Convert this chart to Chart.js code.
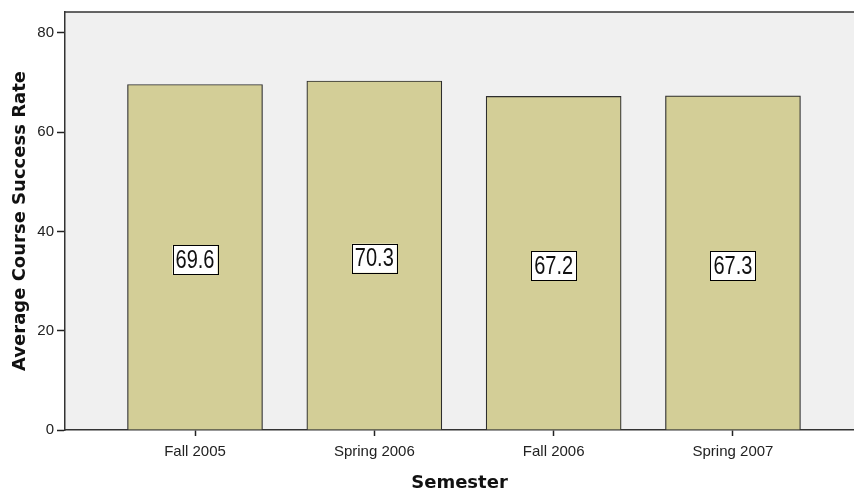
<!DOCTYPE html>
<html>
<head>
<meta charset="utf-8">
<script src="https://cdn.jsdelivr.net/npm/chart.js@4"></script>
<style>
  body { margin: 0; background: #fff; }
  #wrap { width: 854px; height: 498px; }
</style>
</head>
<body>
<div id="wrap"><canvas id="semChart"></canvas></div>
<script>
// Data
const semesters = ["Fall 2005", "Spring 2006", "Fall 2006", "Spring 2007"];
const successRates = [69.6, 70.3, 67.2, 67.3];
const yTicks = [0, 20, 40, 60, 80];

// Plot background (light gray like the SPSS output) + top frame line
const plotBg = {
    id: 'plotBg',
    beforeDraw(chart) {
        const { ctx, chartArea: a } = chart;
        ctx.save();
        ctx.fillStyle = '#f0f0f0';
        ctx.fillRect(a.left, a.top, a.right - a.left, a.bottom - a.top);
        ctx.restore();
    },
    afterDraw(chart) {
        const { ctx, chartArea: a } = chart;
        ctx.save();
        ctx.strokeStyle = '#333';
        ctx.lineWidth = 1.5;
        ctx.beginPath();
        ctx.moveTo(a.left, a.top);
        ctx.lineTo(a.right, a.top);
        ctx.stroke();
        ctx.restore();
    }
};

// Value boxes in the middle of each bar
const barLabels = {
    id: 'barLabels',
    afterDatasetsDraw(chart) {
        const ctx = chart.ctx;
        const meta = chart.getDatasetMeta(0);
        ctx.save();
        meta.data.forEach((bar, i) => {
            const cx = bar.x;
            const cy = (bar.y + bar.base) / 2 + 3;
            const w = 45, h = 29;
            ctx.fillStyle = '#fff';
            ctx.fillRect(cx - w / 2, cy - h / 2, w, h);
            ctx.strokeStyle = '#000';
            ctx.lineWidth = 1;
            ctx.strokeRect(Math.round(cx - w / 2) + 0.5, Math.round(cy - h / 2) + 0.5, w, h);
            ctx.save();
            ctx.translate(cx, cy + 1);
            ctx.scale(0.8, 1);
            ctx.fillStyle = '#111';
            ctx.font = '25px "Liberation Sans", Arial, sans-serif';
            ctx.textAlign = 'center';
            ctx.textBaseline = 'middle';
            ctx.fillText(successRates[i].toFixed(1), 0, 0);
            ctx.restore();
        });
        ctx.restore();
    }
};

const ctx = document.getElementById("semChart").getContext("2d");
const semChart = new Chart(ctx, {
    type: "bar",
    data: {
        datasets: [{
            label: "Average Course Success Rate",
            data: successRates.map((v, i) => ({ x: i, y: v })),
            backgroundColor: '#d3ce97',
            borderColor: '#2e2e2e',
            borderWidth: 1.2,
            borderSkipped: 'bottom',
            barThickness: 135
        }]
    },
    options: {
        responsive: true,
        maintainAspectRatio: false,
        animation: false,
        layout: { padding: { top: 7, right: 0, left: 0, bottom: 0 } },
        plugins: {
            legend: { display: false },
            tooltip: { enabled: false }
        },
        scales: {
            x: {
                type: 'linear',
                offset: false,
                min: -0.725,
                max: 3.675,
                afterBuildTicks: (scale) => {
                    scale.ticks = semesters.map((_, i) => ({ value: i }));
                },
                afterFit: (scale) => { scale.height = 68; },
                ticks: {
                    callback: (v) => semesters[v],
                    color: '#222',
                    font: { family: '"Liberation Sans", Arial, sans-serif', size: 15 },
                    padding: 7,
                    maxRotation: 0
                },
                grid: {
                    offset: false,
                    drawOnChartArea: false,
                    color: '#222',
                    tickLength: 6,
                    tickWidth: 1.5
                },
                border: { display: true, color: '#333', width: 1.5 },
                title: {
                    display: true,
                    text: "Semester",
                    color: '#111',
                    font: { family: '"DejaVu Sans", sans-serif', size: 18, weight: 'bold' },
                    padding: { bottom: 4 }
                }
            },
            y: {
                min: 0,
                max: 84.2,
                afterBuildTicks: (scale) => {
                    scale.ticks = yTicks.map(v => ({ value: v }));
                },
                afterFit: (scale) => { scale.width = 65; },
                ticks: {
                    color: '#222',
                    font: { family: '"Liberation Sans", Arial, sans-serif', size: 15 },
                    padding: 3
                },
                grid: {
                    drawOnChartArea: false,
                    color: '#222',
                    tickLength: 8,
                    tickWidth: 1.5
                },
                border: { display: true, color: '#333', width: 1.5 },
                title: {
                    display: true,
                    text: "Average Course Success Rate",
                    color: '#111',
                    font: { family: '"DejaVu Sans", sans-serif', size: 18, weight: 'bold' },
                    padding: { top: 10 }
                }
            }
        }
    },
    plugins: [plotBg, barLabels]
});
</script>
</body>
</html>
